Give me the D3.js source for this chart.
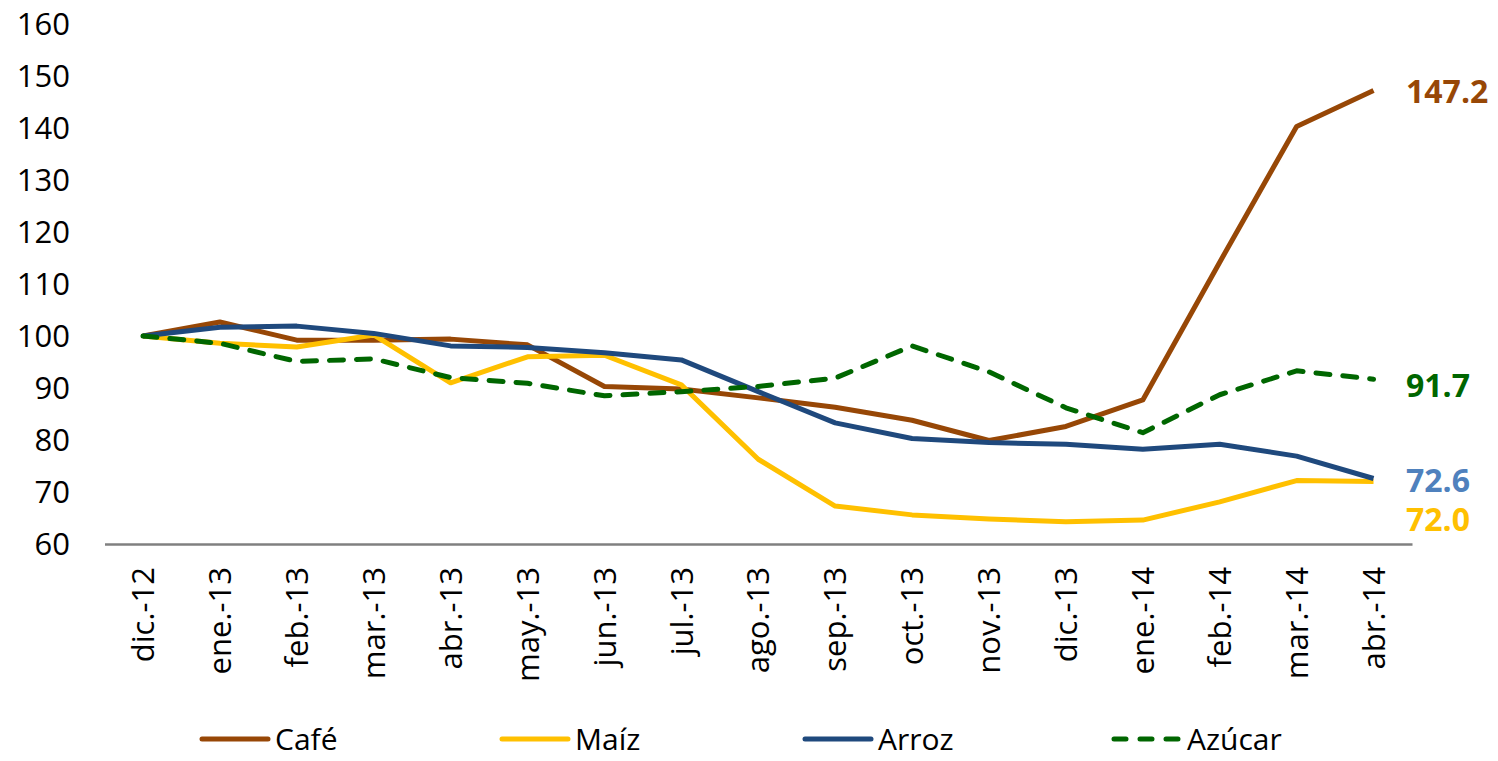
<!DOCTYPE html>
<html>
<head>
<meta charset="utf-8">
<script src="https://cdn.jsdelivr.net/npm/d3@7"></script>
<style>
  body { margin: 0; background: #fff; }
  text { font-family: "Open Sans", sans-serif; }
</style>
</head>
<body>
<div id="chart"></div>
<script>
const width = 1498;
const height = 761;

const months = ["dic.-12","ene.-13","feb.-13","mar.-13","abr.-13","may.-13","jun.-13","jul.-13",
  "ago.-13","sep.-13","oct.-13","nov.-13","dic.-13","ene.-14","feb.-14","mar.-14","abr.-14"];

const cafe   = [100, 102.7, 99.2, 99.2, 99.4, 98.3, 90.3, 89.8, 88.1, 86.3, 83.8, 79.9, 82.6, 87.7, 114.2, 140.3, 147.2];
const maiz   = [100, 98.6, 97.9, 100.2, 91.0, 96.0, 96.3, 90.6, 76.3, 67.3, 65.6, 64.8, 64.3, 64.6, 68.1, 72.2, 72.0];
const arroz  = [100, 101.7, 101.9, 100.5, 98.1, 97.8, 96.8, 95.4, 89.3, 83.3, 80.3, 79.5, 79.2, 78.2, 79.2, 76.9, 72.6];
const azucar = [100, 98.6, 95.1, 95.6, 92.0, 90.9, 88.5, 89.3, 90.3, 91.9, 98.1, 93.1, 86.2, 81.4, 88.7, 93.3, 91.7];

const yTicks = [60, 70, 80, 90, 100, 110, 120, 130, 140, 150, 160];

const series = [
  { name: "Café",   values: cafe,   color: "#974706", label: "#974706", dash: null },
  { name: "Maíz",   values: maiz,   color: "#FFC000", label: "#FFC000", dash: null },
  { name: "Arroz",  values: arroz,  color: "#1F497D", label: "#4F81BD", dash: null },
  { name: "Azúcar", values: azucar, color: "#006600", label: "#006600", dash: "14,13" }
];

const svg = d3.select("#chart").append("svg")
  .attr("width", width)
  .attr("height", height);

const x = d3.scaleBand()
  .domain(months)
  .range([104.5, 1412])
  .padding(0);

const y = d3.scaleLinear()
  .domain([60, 160])
  .range([544, 24]);

const cx = m => x(m) + x.bandwidth() / 2;

// y axis: labels only
const yAxis = svg.append("g")
  .attr("transform", "translate(70,0)")
  .call(d3.axisLeft(y).tickValues(yTicks).tickSize(0).tickPadding(0));
yAxis.select(".domain").remove();
yAxis.selectAll("text")
  .style("font-size", "31px")
  .attr("fill", "#000")
  .attr("dy", "0.35em");

// x axis with rotated labels
const xAxis = svg.append("g")
  .attr("transform", "translate(0,544)")
  .call(d3.axisBottom(x).tickSize(0).tickSizeOuter(0));
xAxis.select(".domain")
  .attr("stroke", "#808080")
  .attr("stroke-width", 2.5);
xAxis.selectAll("text")
  .style("font-size", "31px")
  .attr("fill", "#000")
  .attr("transform", "rotate(-90)")
  .attr("text-anchor", "end")
  .attr("x", -23)
  .attr("y", 0)
  .attr("dy", "0.36em");

const line = d3.line()
  .x((d, i) => cx(months[i]))
  .y(d => y(d));

series.forEach(s => {
  svg.append("path")
    .datum(s.values)
    .attr("fill", "none")
    .attr("stroke", s.color)
    .attr("stroke-width", 5)
    .attr("stroke-linejoin", "round")
    .attr("stroke-linecap", s.dash ? "round" : "butt")
    .attr("stroke-dasharray", s.dash)
    .attr("d", line);
});

// end labels
const labelY = { "Café": 91, "Maíz": 519, "Arroz": 480, "Azúcar": 385 };
series.forEach(s => {
  const last = s.values[s.values.length - 1];
  svg.append("text")
    .attr("x", 1406)
    .attr("y", labelY[s.name])
    .attr("dy", "0.36em")
    .style("font-size", "32px")
    .style("font-weight", "700")
    .attr("fill", s.label)
    .text(last.toFixed(1));
});

// legend
const legendX = [200, 500, 803, 1112];
const legend = svg.append("g");
series.forEach((s, i) => {
  const g = legend.append("g").attr("transform", `translate(${legendX[i]},739)`);
  g.append("line")
    .attr("x1", 2).attr("x2", 68)
    .attr("y1", 0).attr("y2", 0)
    .attr("stroke", s.color)
    .attr("stroke-width", 5)
    .attr("stroke-linecap", "round")
    .attr("stroke-dasharray", s.dash ? "12,14" : null);
  g.append("text")
    .attr("x", 75)
    .attr("y", 0)
    .attr("dy", "0.36em")
    .style("font-size", "30px")
    .attr("fill", "#000")
    .text(s.name);
});
</script>
</body>
</html>
